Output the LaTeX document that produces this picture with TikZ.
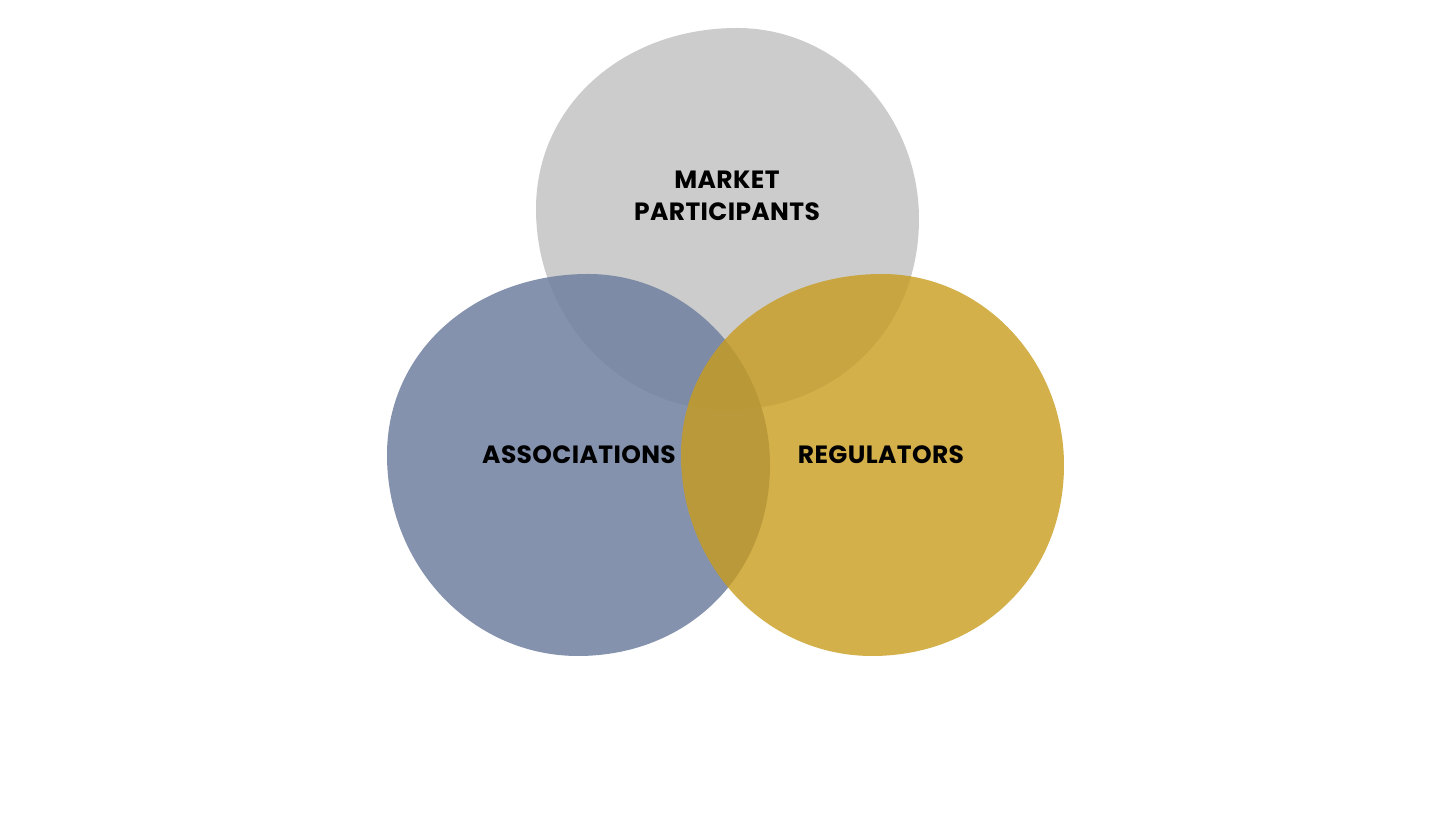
\documentclass[tikz,border=0pt]{standalone}
\usepackage{fontspec}
\setsansfont{Poppins}[LetterSpace=1.5]
\usetikzlibrary{positioning}
\definecolor{PartGray}{HTML}{CCCCCC}
\definecolor{AssocBlue}{RGB}{116,131,162}
\definecolor{RegGold}{RGB}{200,156,29}

\begin{document}
\begin{tikzpicture}[
    x=0.01cm, y=-0.01cm,
    lbl/.style={font=\sffamily\bfseries\fontsize{7.1}{9.1}\selectfont, align=center, text=black, inner sep=0pt}
]
  \useasboundingbox (0,0) rectangle (1456,819);

  % Blobs (same outline, shifted)
  \foreach \col/\op/\dx/\dy in {PartGray/1/149/-246, AssocBlue/0.88/0/0, RegGold/0.8/294/0}{
    \fill[\col, fill opacity=\op, shift={(\dx,\dy)}]
      (588,274) .. controls (690,274) and (770,362) .. (770,465)
      .. controls (770,575) and (688,656) .. (578,656)
      .. controls (472,656) and (387,566) .. (387,455)
      .. controls (387,350) and (476,274) .. (588,274) -- cycle;
  }

  % Labels
  \node[lbl] (market) at (727,196) {MARKET\\PARTICIPANTS};
  \node[lbl] (assoc) at (579,455) {ASSOCIATIONS};
  \node[lbl] (reg) at (881,455) {REGULATORS};
\end{tikzpicture}
\end{document}
